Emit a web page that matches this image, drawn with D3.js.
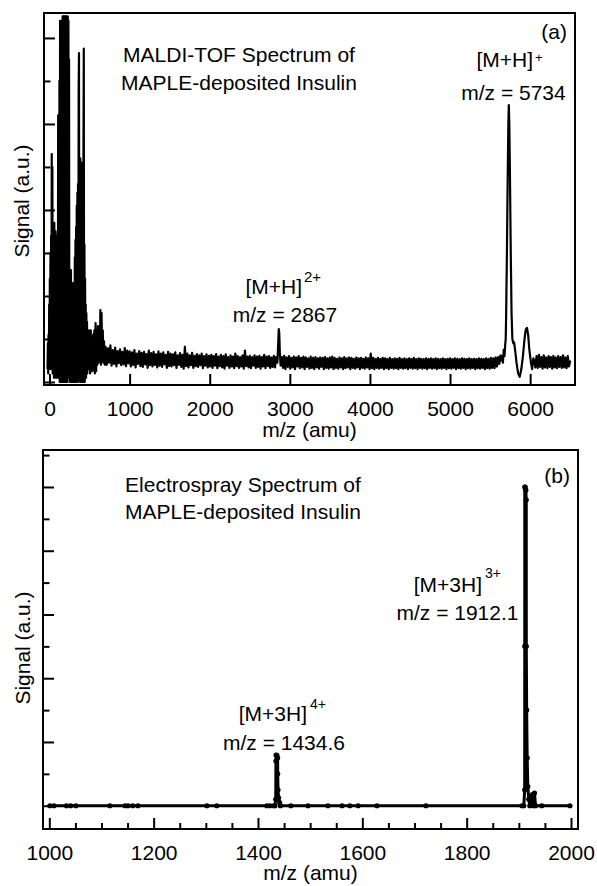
<!DOCTYPE html>
<html><head><meta charset="utf-8">
<script src="https://cdn.jsdelivr.net/npm/d3@7"></script>
<style>
body{margin:0;background:#fff}
svg text{font-family:"Liberation Sans",Arial,Helvetica,sans-serif;fill:#000}
</style>
</head><body>
<svg id="chart" width="597" height="886"></svg>
<script>
// ---------------- DATA ----------------
// Panel (a): MALDI-TOF spectrum, [m/z, signal (a.u.)]
const maldiMatrix = [
[-25,0.3],[-20,0.9],[-16,0.2],[-12,1.1],[-8,0.3],[-4,1.8],[0,0.4],[4,2.4],[8,0.6],[12,3.0],[16,0.3],[20,3.4],
[24,0.5],[28,5.3],[32,0.4],[36,5.0],[40,0.2],[44,3.6],[48,0.3],[52,3.3],[56,0.1],[60,3.7],[64,0.2],[68,3.2],
[72,0.1],[76,3.5],[80,0.2],[84,3.0],[88,0.1],[92,2.8],[96,0.2],[100,3.4],[104,0.1],[108,6.2],[112,0.2],[116,6.1],
[120,0.1],[124,7.0],[128,0.0],[132,8.4],[136,0.1],[140,8.3],[144,0.0],[148,8.4],[152,0.1],[156,8.2],[160,0.0],
[164,8.5],[168,0.1],[172,8.5],[176,0.0],[180,8.5],[184,0.2],[188,8.5],[192,0.0],[196,8.5],[200,0.1],[204,8.5],
[208,0.0],[212,8.5],[216,0.1],[220,8.4],[224,0.0],[228,8.5],[232,0.2],[236,8.4],[240,0.1],[244,7.5],[248,0.2],
[252,2.5],[256,0.0],[260,2.2],[264,0.1],[268,2.6],[272,0.0],[276,2.0],[280,0.2],[284,1.8],[288,0.0],[292,2.3],
[296,0.1],[300,1.6],[304,0.0],[308,2.0],[312,0.2],[316,2.9],[320,0.0],[324,3.3],[328,0.1],[332,3.6],[336,0.0],
[340,4.1],[344,0.1],[348,4.4],[352,0.0],[356,4.6],[360,0.1],[364,6.8],[368,7.65],[372,0.2],[376,5.0],[380,0.0],
[384,5.2],[388,0.1],[392,5.0],[396,0.0],[400,5.1],[404,0.1],[408,5.0],[412,0.2],[416,4.8],[420,0.0],[424,5.4],
[428,7.75],[432,0.1],[436,3.2],[440,0.0],[444,2.4],[448,0.2],[452,1.8],[456,0.1],[460,1.6],[464,0.3],[468,1.4],
[472,0.2],[476,1.2],[480,0.4],[484,1.1],[488,0.3],[492,1.2],[496,0.5],[500,0.9],[508,0.2],[515,1.2],[522,0.3],
[530,1.0],[537,0.25],[545,1.1],[552,0.3],[560,1.2],[567,0.2],[575,1.37],[582,0.25],[590,1.2],[597,0.4],[605,1.3],
[612,0.45],[620,1.1],[627,0.5],[635,1.67],[642,0.4],[650,1.6],[657,0.5],[665,1.2],[672,0.45],[680,0.95],[690,0.4]
];
const maldiBaseline = [
[700,.82],[715,.40],[730,.78],[745,.45],[760,.85],[775,.38],[790,.74],[805,.42],[820,.80],[835,.36],[850,.72],
[865,.44],[880,.76],[895,.39],[910,.70],[925,.41],[940,.79],[955,.37],[970,.73],[985,.43],
[1000,.71],[1015,.36],[1030,.69],[1045,.40],[1060,.74],[1075,.34],[1090,.66],[1105,.42],[1120,.72],[1135,.37],
[1150,.68],[1165,.35],[1180,.70],[1195,.41],[1210,.65],[1225,.33],[1240,.73],[1255,.39],[1270,.67],[1285,.36],
[1300,.70],[1315,.40],[1330,.64],[1345,.34],[1360,.71],[1375,.38],[1390,.66],[1405,.35],[1420,.69],[1435,.41],
[1450,.63],[1465,.33],[1480,.70],[1495,.37],
[1510,.66],[1525,.36],[1540,.64],[1555,.39],[1570,.69],[1585,.33],[1600,.62],[1615,.40],[1630,.67],[1645,.35],
[1660,.63],[1675,.31],[1690,.82],[1705,.37],[1720,.66],[1735,.34],[1750,.62],[1765,.39],[1780,.68],[1795,.33],
[1810,.61],[1825,.37],[1840,.65],[1855,.35],[1870,.62],[1885,.39],[1900,.66],[1915,.32],[1930,.60],[1945,.38],
[1960,.64],[1975,.34],[1990,.61],
[2005,.36],[2020,.63],[2035,.33],[2050,.60],[2065,.38],[2080,.65],[2095,.32],[2110,.59],[2125,.37],[2140,.63],
[2155,.34],[2170,.60],[2185,.31],[2200,.64],[2215,.38],[2230,.58],[2245,.33],[2260,.62],[2275,.36],[2290,.59],
[2305,.32],[2320,.66],[2335,.37],[2350,.60],[2365,.33],[2380,.58],[2395,.36],[2410,.62],[2425,.31],[2440,.73],
[2455,.37],[2470,.59],[2485,.34],[2500,.61],[2515,.32],[2530,.58],[2545,.38],[2560,.62],[2575,.33],[2590,.59],
[2605,.35],[2620,.61],[2635,.31],[2650,.58],[2665,.36],[2680,.63],[2695,.32],[2710,.59],[2725,.37],[2740,.60],
[2755,.33],[2770,.57],[2785,.35],[2800,.61],[2815,.34],[2830,.58],[2845,.45],[2855,.9],[2862,1.23],[2868,1.15],
[2875,.7],[2885,.38],
[2900,.58],[2915,.33],[2930,.61],[2945,.30],[2960,.57],[2975,.35],[2990,.60],[3005,.31],[3020,.56],[3035,.34],
[3050,.59],[3065,.30],[3080,.57],[3095,.36],[3110,.60],[3125,.32],[3140,.56],[3155,.34],[3170,.59],[3185,.30],
[3200,.57],[3215,.35],[3230,.55],[3245,.31],[3260,.59],[3275,.33],[3290,.56],[3305,.30],[3320,.58],[3335,.34],
[3350,.55],[3365,.31],[3380,.57],[3395,.35],[3410,.56],[3425,.30],[3440,.58],[3455,.33],[3470,.55],[3485,.31],
[3500,.57],[3515,.34],[3530,.59],[3545,.30],[3560,.56],[3575,.33],[3590,.54],[3605,.31],[3620,.57],[3635,.34],
[3650,.55],[3665,.30],[3680,.58],[3695,.32],[3710,.55],[3725,.34],[3740,.57],[3755,.30],[3770,.56],[3785,.33],
[3800,.54],[3815,.31],[3830,.57],[3845,.34],[3860,.55],[3875,.30],[3890,.56],[3905,.33],[3920,.54],[3935,.31],
[3950,.57],[3965,.34],[3980,.55],
[3995,.30],[4010,.66],[4025,.32],[4040,.56],[4055,.30],[4070,.54],[4085,.33],[4100,.56],[4115,.31],[4130,.54],
[4145,.33],[4160,.56],[4175,.30],[4190,.55],[4205,.32],[4220,.54],[4235,.30],[4250,.56],[4265,.33],[4280,.53],
[4295,.31],[4310,.55],[4325,.32],[4340,.54],[4355,.30],[4370,.56],[4385,.33],[4400,.53],[4415,.31],[4430,.55],
[4445,.32],[4460,.53],[4475,.30],[4490,.55],[4505,.33],[4520,.54],[4535,.31],[4550,.56],[4565,.32],[4580,.53],
[4595,.30],[4610,.55],[4625,.33],[4640,.54],[4655,.31],[4670,.53],[4685,.32],[4700,.55],[4715,.30],[4730,.54],
[4745,.33],[4760,.55],[4775,.31],[4790,.53],[4805,.32],[4820,.55],[4835,.30],[4850,.54],[4865,.32],[4880,.53],
[4895,.31],[4910,.55],[4925,.33],[4940,.53],[4955,.30],[4970,.54],[4985,.32],
[5000,.55],[5015,.31],[5030,.53],[5045,.33],[5060,.55],[5075,.30],[5090,.54],[5105,.32],[5120,.53],[5135,.31],
[5150,.55],[5165,.33],[5180,.54],[5195,.30],[5210,.53],[5225,.32],[5240,.55],[5255,.31],[5270,.53],[5285,.33],
[5300,.54],[5315,.30],[5330,.53],[5345,.32],[5360,.55],[5375,.31],[5390,.54],[5405,.33],[5420,.53],[5435,.30],
[5450,.55],[5465,.32],[5480,.54],[5495,.31],[5510,.56],[5525,.33],[5540,.55],[5555,.32],[5570,.57],[5585,.36],
[5600,.58],[5615,.42],[5630,.62],[5640,.5]
];
const maldiInsulin = [
[5650,0.6],[5660,0.45],[5670,0.75],[5680,0.6],[5688,0.85],[5695,1.0],[5700,1.5],[5710,3.0],[5720,4.8],
[5728,6.0],[5734,6.44],[5740,6.0],[5748,4.8],[5758,3.0],[5768,1.6],[5778,1.0],[5790,0.9],[5800,0.92],
[5815,0.7],[5830,0.45],[5850,0.2],[5870,0.12],[5890,0.3],[5910,0.6],[5930,1.0],[5945,1.22],[5960,1.26],
[5975,1.1],[5990,0.75],[6010,0.45],[6025,0.3],[6040,0.55],
[6050,.5],[6065,.34],[6080,.6],[6095,.33],[6110,.63],[6125,.35],[6140,.58],[6155,.31],[6170,.62],[6185,.34],
[6200,.57],[6215,.32],[6230,.6],[6245,.35],[6260,.58],[6275,.31],[6290,.61],[6305,.34],[6320,.57],[6335,.32],
[6350,.6],[6365,.35],[6380,.58],[6395,.33],[6410,.62],[6425,.34],[6440,.57],[6455,.32],[6470,.6],[6485,.36],[6500,.5]
];
const maldiXTicks = [0,1000,2000,3000,4000,5000,6000];
const maldiYMajor = [0,2,4,6,8];
const maldiYMinor = [1,3,5,7];

// Panel (b): Electrospray spectrum, [m/z, signal (a.u.)]
const esiLowRange = [
[1001,0],[1009,0],[1033,0],[1041,0],[1051,0],[1116,0],[1145,0],[1151,0],[1160,0],[1170,0],
[1302,0],[1321,0],[1417,0],[1423,0],[1430,0]
];
const esiPeak4 = [
[1432.5,0],[1434,0.2],[1434.4,1.4],[1434.6,1.59],[1436.2,1.58],[1437.6,1.5],[1437.8,1.0],
[1438.4,0.5],[1439.5,0.25],[1441.5,0.1],[1443,0]
];
const esiMidRange = [
[1463,0],[1496,0],[1534,0],[1561,0],[1576,0],[1592,0],[1628,0],[1722,0],[1906,0]
];
const esiPeak3 = [
[1909.5,0],[1911.2,0.5],[1911.35,5],[1911.4,10],[1912.1,10],[1913.4,9.9],[1914.2,9.6],[1914.3,5],
[1915.0,3],[1916.0,1.5],[1917.2,0.6],[1919,0.2],[1921,0],[1924,0.3],[1926,0.35],[1928,0],
[1930,0.4],[1932,0]
];
const esiHighRange = [[1944,0],[1998,0]];
const esiXMajor = [1000,1200,1400,1600,1800,2000];
const esiXMinor = [1050,1100,1150,1250,1300,1350,1450,1500,1550,1650,1700,1750,1850,1900,1950];
const esiYMajor = [0,2,4,6,8,10];
const esiYMinor = [1,3,5,7,9,11];

// ---------------- DRAW ----------------
const svg = d3.select("#chart");
const FS = 21;

function panel(cfg){
  const g = svg.append("g");
  const x = d3.scaleLinear().domain(cfg.xDomain).range([cfg.left, cfg.right]);
  const y = d3.scaleLinear().domain(cfg.yDomain).range([cfg.bottom, cfg.top]);
  const clipId = "clip" + cfg.id;
  svg.append("clipPath").attr("id", clipId).append("rect")
    .attr("x", cfg.left).attr("y", cfg.top)
    .attr("width", cfg.right - cfg.left).attr("height", cfg.bottom - cfg.top);

  const xa = g.append("g").attr("transform", `translate(0,${cfg.bottom})`)
    .call(d3.axisBottom(x).tickValues(cfg.xMajor).tickSize(-11).tickPadding(16).tickFormat(d3.format("d")));
  xa.select(".domain").remove();
  xa.selectAll("line").attr("stroke", "#000").attr("stroke-width", 2);
  xa.selectAll("text").attr("font-size", FS);
  if (cfg.xMinor){
    const xm = g.append("g").attr("transform", `translate(0,${cfg.bottom})`)
      .call(d3.axisBottom(x).tickValues(cfg.xMinor).tickSize(-6).tickFormat(""));
    xm.select(".domain").remove();
    xm.selectAll("line").attr("stroke", "#000").attr("stroke-width", 2);
  }
  const ya = g.append("g").attr("transform", `translate(${cfg.left},0)`)
    .call(d3.axisLeft(y).tickValues(cfg.yMajor).tickSize(-11).tickFormat(""));
  ya.select(".domain").remove();
  ya.selectAll("line").attr("stroke", "#000").attr("stroke-width", 2);
  const ym = g.append("g").attr("transform", `translate(${cfg.left},0)`)
    .call(d3.axisLeft(y).tickValues(cfg.yMinor).tickSize(-6.5).tickFormat(""));
  ym.select(".domain").remove();
  ym.selectAll("line").attr("stroke", "#000").attr("stroke-width", 2);

  const line = d3.line().x(d => x(d[0])).y(d => y(d[1]));
  g.append("path").datum(cfg.data).attr("clip-path", `url(#${clipId})`)
    .attr("d", line).attr("fill", "none").attr("stroke", "#000")
    .attr("stroke-width", cfg.lineWidth).attr("stroke-linejoin", "round");
  if (cfg.markers){
    g.append("g").attr("clip-path", `url(#${clipId})`).selectAll("circle").data(cfg.data).join("circle")
      .attr("cx", d => x(d[0])).attr("cy", d => y(d[1])).attr("r", cfg.markers).attr("fill", "#000");
  }

  g.append("rect").attr("x", cfg.left).attr("y", cfg.top)
    .attr("width", cfg.right - cfg.left).attr("height", cfg.bottom - cfg.top)
    .attr("fill", "none").attr("stroke", "#000").attr("stroke-width", 2);

  g.append("text").attr("x", (cfg.left + cfg.right) / 2).attr("y", cfg.xTitleY)
    .attr("text-anchor", "middle").attr("font-size", FS).text("m/z (amu)");
  g.append("text").attr("transform", `translate(${cfg.yTitleX},${cfg.yTitleC}) rotate(-90)`)
    .attr("text-anchor", "middle").attr("font-size", FS).text("Signal (a.u.)");
  return {g, x, y};
}

panel({
  id: "a", left: 44, right: 575, top: 13, bottom: 385,
  xDomain: [-68.7, 6560], yDomain: [-0.07, 8.58],
  xMajor: maldiXTicks, yMajor: maldiYMajor, yMinor: maldiYMinor,
  data: maldiMatrix.concat(maldiBaseline, maldiInsulin), lineWidth: 2.2,
  xTitleY: 437, yTitleX: 28.5, yTitleC: 201
});
panel({
  id: "b", left: 43, right: 578, top: 450, bottom: 829,
  xDomain: [987.9, 2013.4], yDomain: [-0.73, 11.16],
  xMajor: esiXMajor, xMinor: esiXMinor, yMajor: esiYMajor, yMinor: esiYMinor,
  data: esiLowRange.concat(esiPeak4, esiMidRange, esiPeak3, esiHighRange), lineWidth: 3, markers: 2.6,
  xTitleY: 880, yTitleX: 30, yTitleC: 648
});

function label(x, y, txt, anchor, size){
  svg.append("text").attr("x", x).attr("y", y).attr("text-anchor", anchor || "start")
    .attr("font-size", size || FS).text(txt);
}
label(239, 62, "MALDI-TOF Spectrum of", "middle");
label(239, 90, "MAPLE-deposited Insulin", "middle");
label(567, 39, "(a)", "end");
label(533, 67, "[M+H]", "end");
label(535, 62, "+", "start", 13);
label(513.5, 100, "m/z = 5734", "middle");
label(302, 294, "[M+H]", "end");
label(304, 282, "2+", "start", 15);
label(285, 322, "m/z = 2867", "middle");

label(243, 492, "Electrospray Spectrum of", "middle");
label(243, 519, "MAPLE-deposited Insulin", "middle");
label(570, 483, "(b)", "end");
label(482, 592, "[M+3H]", "end");
label(485, 578, "3+", "start", 14);
label(457.5, 620, "m/z = 1912.1", "middle");
label(307, 721, "[M+3H]", "end");
label(310, 709, "4+", "start", 14);
label(284, 750, "m/z = 1434.6", "middle");
</script>
</body></html>
